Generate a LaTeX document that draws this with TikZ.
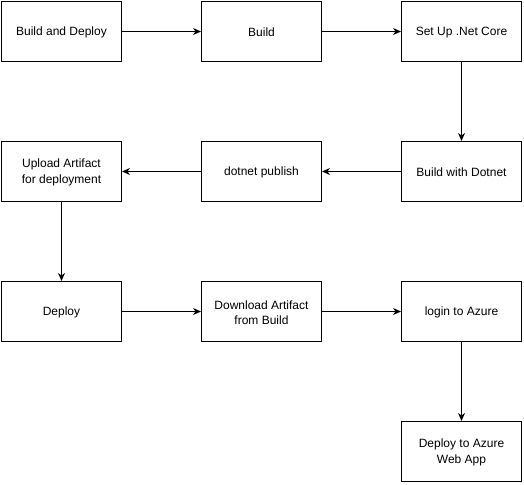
\documentclass[tikz,border=0pt]{standalone}
\usepackage{fontspec}
\setmainfont{Liberation Sans}
\usetikzlibrary{arrows.meta}
\begin{document}
\begin{tikzpicture}[x=1pt,y=-1pt,
  box/.style={draw=black,line width=1pt,minimum width=120pt,minimum height=60pt,inner sep=0pt},
  lbl/.style={inner sep=0pt,align=center,font=\fontsize{12}{15.5}\selectfont},
  conn/.style={line width=1pt,-{Stealth[length=8pt,width=7pt,inset=2.5pt]}}]
\useasboundingbox (0,0) rectangle (524,484);
\node[box] (a) at (61.5,31.5) {};
\node[box] (b) at (261.5,31.5) {};
\node[box] (c) at (461.5,31.5) {};
\node[box] (d) at (461.5,171.5) {};
\node[box] (e) at (261.5,171.5) {};
\node[box] (f) at (61.5,171.5) {};
\node[box] (g) at (61.5,311.5) {};
\node[box] (h) at (261.5,311.5) {};
\node[box] (i) at (461.5,311.5) {};
\node[box] (j) at (461.5,451.5) {};
\node[lbl] (ta) at ([yshift=-1pt]a.center) {Build and Deploy};
\node[lbl] (tb) at ([yshift=-1pt]b.center) {Build};
\node[lbl] (tc) at ([yshift=-1pt]c.center) {Set Up .Net Core};
\node[lbl] (td) at ([yshift=-1pt]d.center) {Build with Dotnet};
\node[lbl] (te) at ([yshift=-1pt]e.center) {dotnet publish};
\node[lbl] (tf) at ([yshift=-1pt]f.center) {Upload Artifact\\for deployment};
\node[lbl] (tg) at ([yshift=-1pt]g.center) {Deploy};
\node[lbl] (th) at ([yshift=-1pt]h.center) {Download Artifact\\from Build};
\node[lbl] (ti) at ([yshift=-1pt]i.center) {login to Azure};
\node[lbl] (tj) at ([yshift=-1pt]j.center) {Deploy to Azure\\Web App};
\draw[conn] (a) -- (b);
\draw[conn] (b) -- (c);
\draw[conn] (c) -- (d);
\draw[conn] (d) -- (e);
\draw[conn] (e) -- (f);
\draw[conn] (f) -- (g);
\draw[conn] (g) -- (h);
\draw[conn] (h) -- (i);
\draw[conn] (i) -- (j);
\end{tikzpicture}
\end{document}
